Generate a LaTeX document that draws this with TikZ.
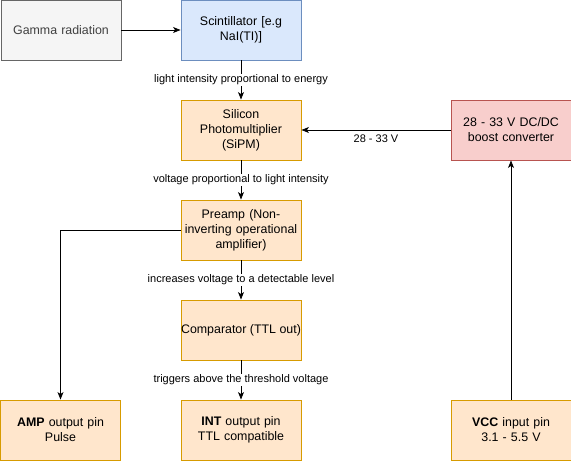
\documentclass[tikz,border=0pt]{standalone}
\usepackage{fontspec}
\setmainfont{Liberation Sans}
\usetikzlibrary{arrows.meta}
\definecolor{grayfill}{HTML}{F5F5F5}\definecolor{graydraw}{HTML}{666666}
\definecolor{bluefill}{HTML}{DAE8FC}\definecolor{bluedraw}{HTML}{6C8EBF}
\definecolor{orangefill}{HTML}{FFE6CC}\definecolor{orangedraw}{HTML}{D79B00}
\definecolor{redfill}{HTML}{F8CECC}\definecolor{reddraw}{HTML}{B85450}
\tikzset{
  blockbox/.style={draw,minimum width=120pt,minimum height=60pt,text width=116pt,align=center,
    font=\fontsize{12.4}{15}\selectfont,inner sep=2pt,line width=0.9pt},
  grayblock/.style={blockbox,fill=grayfill,draw=graydraw,text=black!75},
  blueblock/.style={blockbox,fill=bluefill,draw=bluedraw},
  orangeblock/.style={blockbox,fill=orangefill,draw=orangedraw},
  redblock/.style={blockbox,fill=redfill,draw=reddraw},
  edgelabel/.style={fill=white,font=\fontsize{11}{13}\selectfont,inner sep=1pt}
}
\begin{document}
\begin{tikzpicture}[x=1pt,y=-1pt,>={Stealth[length=7.5pt,width=6pt,inset=2pt]},line width=0.9pt]
  \useasboundingbox (0,0) rectangle (571,461);
  % blocks
  \node[grayblock] (gamma) at (61,30) {Gamma radiation};
  \node[blueblock] (scint) at (241,30) {Scintillator [e.g\\NaI(TI)]};
  \node[orangeblock] (sipm) at (241,130) {Silicon\\Photomultiplier\\(SiPM)};
  \node[redblock] (boost) at (511,130) {28 - 33 V DC/DC\\boost converter};
  \node[orangeblock] (preamp) at (241,230) {Preamp (Non-\\inverting operational\\amplifier)};
  \node[orangeblock,text width={},inner xsep=0pt] (comp) at (241,330) {Comparator (TTL out)};
  \node[orangeblock] (amp) at (60.5,430) {\textbf{AMP} output pin\\Pulse};
  \node[orangeblock] (int) at (241,430) {\textbf{INT} output pin\\TTL compatible};
  \node[orangeblock] (vcc) at (511,430) {\textbf{VCC} input pin\\3.1 - 5.5 V};
  % connectors
  \draw[->] (gamma)--(scint);
  \draw[->] (scint)--node[edgelabel]{light intensity proportional to energy}(sipm);
  \draw[->] (sipm)--node[edgelabel]{voltage proportional to light intensity}(preamp);
  \draw[->] (preamp)--node[edgelabel]{increases voltage to a detectable level}(comp);
  \draw[->] (comp)--node[edgelabel]{triggers above the threshold voltage}(int);
  \draw[->] (boost)--node[edgelabel,below=3pt]{28 - 33 V}(sipm);
  \draw[->] (preamp.west)-|(amp.north);
  \draw[->] (vcc)--(boost);
\end{tikzpicture}
\end{document}
